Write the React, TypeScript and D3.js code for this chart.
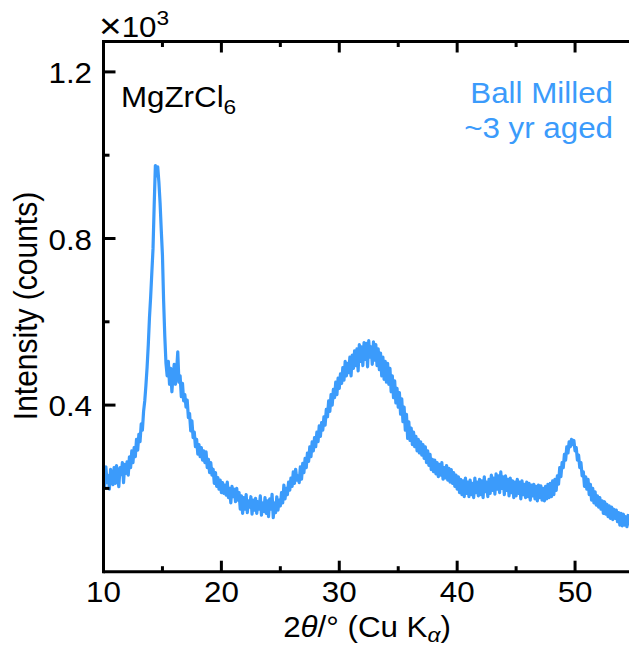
import React from "react";
import * as d3 from "d3";

// XRD pattern: 2θ from 10.0° in steps of 0.1°, intensity in counts
const START_ANGLE = 10.0;
const STEP = 0.1;
const intensity: number[] = [
  240, 205, 252, 214, 231, 198, 246, 222, 209, 250,
  212, 255, 226, 204, 250, 233, 262, 214, 258, 236,
  264, 232, 276, 250, 290, 262, 298, 276, 318, 292,
  330, 312, 355, 340, 385, 410, 448, 492, 545, 610,
  660, 718, 775, 880, 975, 950, 972, 935, 885, 820,
  760, 650, 565, 500, 470, 505, 450, 488, 432, 470,
  498, 450, 482, 528, 455, 470, 420, 452, 410, 425,
  395, 412, 370, 380, 338, 362, 322, 335, 300, 318,
  282, 305, 276, 298, 268, 290, 262, 288, 250, 270,
  238, 262, 232, 246, 212, 238, 205, 226, 198, 220,
  190, 214, 188, 208, 184, 215, 178, 200, 165, 205,
  180, 198, 168, 200, 172, 190, 150, 182, 140, 178,
  150, 185, 142, 170, 155, 180, 138, 172, 148, 176,
  140, 168, 150, 182, 136, 165, 145, 178, 140, 170,
  132, 175, 150, 186, 130, 165, 142, 180, 148, 172,
  158, 190, 165, 208, 175, 200, 185, 215, 196, 225,
  205, 240, 212, 246, 220, 230, 214, 252, 222, 260,
  238, 272, 250, 285, 265, 300, 276, 312, 290, 322,
  300, 335, 312, 350, 325, 358, 340, 372, 352, 390,
  372, 410, 385, 425, 400, 438, 418, 455, 425, 465,
  440, 475, 452, 490, 460, 505, 470, 500, 478, 515,
  470, 520, 488, 530, 495, 535, 482, 545, 505, 540,
  495, 550, 510, 548, 492, 555, 515, 540, 498, 552,
  508, 545, 495, 535, 485, 525, 470, 515, 462, 505,
  455, 500, 450, 488, 432, 470, 418, 458, 405, 440,
  395, 430, 378, 415, 360, 395, 340, 378, 320, 360,
  315, 345, 305, 335, 300, 325, 290, 318, 285, 312,
  280, 305, 272, 300, 262, 290, 255, 282, 245, 270,
  240, 268, 235, 262, 228, 258, 232, 262, 222, 250,
  225, 255, 220, 248, 215, 245, 212, 238, 205, 232,
  198, 228, 190, 222, 185, 218, 180, 225, 188, 215,
  180, 220, 185, 212, 178, 225, 190, 215, 182, 222,
  185, 218, 178, 228, 192, 215, 180, 222, 188, 232,
  195, 225, 186, 235, 198, 230, 190, 240, 200, 228,
  185, 230, 195, 222, 182, 225, 190, 218, 178, 215,
  182, 222, 188, 215, 175, 218, 185, 210, 178, 215,
  180, 212, 172, 208, 182, 210, 175, 205, 170, 208,
  178, 206, 172, 200, 170, 205, 175, 210, 178, 212,
  180, 218, 185, 222, 195, 230, 210, 250, 228, 262,
  250, 282, 268, 300, 285, 312, 300, 318, 305, 315,
  290, 298, 268, 280, 250, 262, 230, 240, 205, 228,
  198, 222, 185, 210, 172, 200, 165, 192, 160, 182,
  155, 178, 150, 170, 140, 168, 138, 162, 132, 158,
  128, 155, 125, 150, 128, 148, 120, 142, 112, 140,
  110, 138, 112, 132, 108, 135, 115, 130,
];

const xMajorTicks = [10, 20, 30, 40, 50];
const xMinorTicks = [15, 25, 35, 45, 55];
const yMajorTicks = [400, 800, 1200];
const yMinorTicks = [200, 600, 1000];
const yTickLabels = ["0.4", "0.8", "1.2"];

const W = 629;
const H = 646;
const LEFT = 103.5;
const TOP = 41.5;
const BOTTOM = 571.7;
const XMAX_PX = 634;

const BLUE = "#3b9bfb";
const FONT = "'Liberation Sans', Arial, Helvetica, sans-serif";
const SX = 1.08;

function T(props: {
  x: number;
  y: number;
  anchor?: "start" | "middle" | "end";
  size?: number;
  fill?: string;
  children: React.ReactNode;
}) {
  const { x, y, anchor = "start", size = 29, fill = "#000", children } = props;
  return (
    <text
      transform={`translate(${x},${y}) scale(${SX},1)`}
      textAnchor={anchor}
      fontSize={size}
      fill={fill}
    >
      {children}
    </text>
  );
}

export default function App() {
  const x = d3.scaleLinear().domain([10, 55]).range([LEFT, XMAX_PX]);
  const y = d3.scaleLinear().domain([0, 1273]).range([BOTTOM, TOP]);

  const pts: [number, number][] = intensity.map((v, i) => [START_ANGLE + i * STEP, v]);
  const line = d3
    .line<[number, number]>()
    .x((d) => x(d[0]))
    .y((d) => y(d[1]));

  const sw = 3;
  return (
    <svg
      width={W}
      height={H}
      style={{ position: "absolute", left: 0, top: 0, background: "#fff" }}
      fontFamily={FONT}
    >
      <defs>
        <clipPath id="plot">
          <rect x={LEFT} y={TOP} width={XMAX_PX - LEFT} height={BOTTOM - TOP} />
        </clipPath>
      </defs>
      <path
        d={line(pts) || ""}
        fill="none"
        stroke={BLUE}
        strokeWidth={3.2}
        strokeLinejoin="round"
        clipPath="url(#plot)"
      />
      {/* spines */}
      <line x1={LEFT} x2={XMAX_PX} y1={TOP} y2={TOP} stroke="#000" strokeWidth={sw} />
      <line x1={LEFT} x2={XMAX_PX} y1={BOTTOM} y2={BOTTOM} stroke="#000" strokeWidth={sw} />
      <line x1={LEFT} x2={LEFT} y1={TOP - 1.5} y2={BOTTOM + 1.5} stroke="#000" strokeWidth={sw} />
      {/* x ticks */}
      {xMajorTicks.map((t) => (
        <g key={"xm" + t}>
          <line x1={x(t)} x2={x(t)} y1={BOTTOM} y2={BOTTOM - 11} stroke="#000" strokeWidth={sw} />
          <line x1={x(t)} x2={x(t)} y1={TOP} y2={TOP + 11} stroke="#000" strokeWidth={sw} />
          <T x={x(t)} y={602} anchor="middle">
            {t}
          </T>
        </g>
      ))}
      {xMinorTicks.map((t) => (
        <g key={"xn" + t}>
          <line x1={x(t)} x2={x(t)} y1={BOTTOM} y2={BOTTOM - 5.5} stroke="#000" strokeWidth={sw} />
          <line x1={x(t)} x2={x(t)} y1={TOP} y2={TOP + 5.5} stroke="#000" strokeWidth={sw} />
        </g>
      ))}
      {/* y ticks */}
      {yMajorTicks.map((t, i) => (
        <g key={"ym" + t}>
          <line x1={LEFT} x2={LEFT + 12} y1={y(t)} y2={y(t)} stroke="#000" strokeWidth={sw} />
          <T x={92} y={y(t) + 11} anchor="end">
            {yTickLabels[i]}
          </T>
        </g>
      ))}
      {yMinorTicks.map((t) => (
        <line key={"yn" + t} x1={LEFT} x2={LEFT + 6} y1={y(t)} y2={y(t)} stroke="#000" strokeWidth={sw} />
      ))}
      {/* multiplier */}
      <T x={99} y={37} size={29}>
        <tspan fontSize={36} dy={1}>×</tspan>
        <tspan dy={-1}>10</tspan>
        <tspan dy={-12} fontSize={21}>3</tspan>
      </T>
      {/* sample label */}
      <T x={121} y={107}>
        MgZrCl<tspan dy={7} fontSize={21}>6</tspan>
      </T>
      <T x={613} y={103} anchor="end" fill={BLUE}>
        Ball Milled
      </T>
      <T x={613} y={138} anchor="end" fill={BLUE}>
        ~3 yr aged
      </T>
      {/* axis titles */}
      <T x={367} y={637} anchor="middle">
        2<tspan fontStyle="italic">θ</tspan>/° (Cu K<tspan dy={5} fontSize={21} fontStyle="italic">α</tspan>
        <tspan dy={-5}>)</tspan>
      </T>
      <text
        transform={`translate(37,306) rotate(-90) scale(1,${SX})`}
        textAnchor="middle"
        fontSize={30}
      >
        Intensity (counts)
      </text>
    </svg>
  );
}
